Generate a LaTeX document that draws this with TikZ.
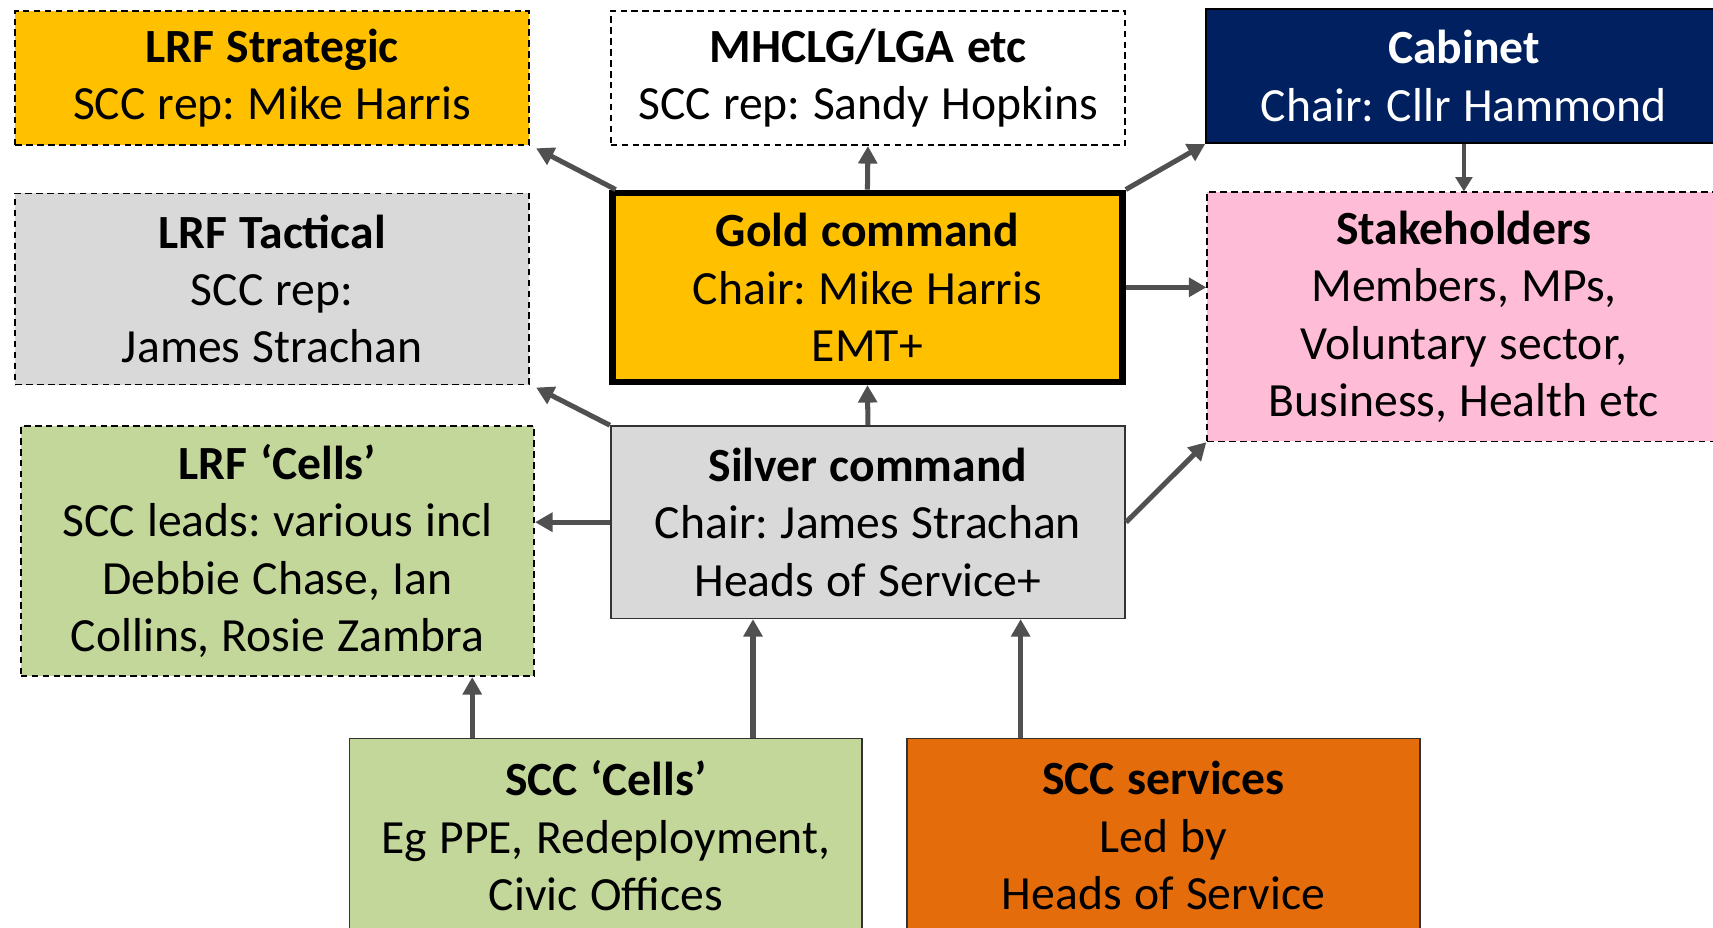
\documentclass[tikz,border=0pt]{standalone}
\usepackage{fontspec}
\setmainfont{Carlito}
\usetikzlibrary{arrows.meta}
\definecolor{gold}{HTML}{FFC000}
\definecolor{navy}{HTML}{002060}
\definecolor{pinkc}{HTML}{FFBCD7}
\definecolor{greenc}{HTML}{C4D79B}
\definecolor{grayc}{HTML}{D9D9D9}
\definecolor{orangec}{HTML}{E46C0A}
\definecolor{arrowgray}{HTML}{505050}
\frenchspacing
\newcommand\bxfont{\fontsize{21.8}{26.3}\selectfont\frenchspacing}
\newcommand\tightsp{\spaceskip=0.26em\relax}
\begin{document}
\begin{tikzpicture}[x=0.5pt,y=-0.5pt,
  box/.style={draw=black, rectangle, align=center, inner sep=0pt, line width=0.75pt,
    font=\bxfont, text width=230pt},
  dbox/.style={box, dash pattern=on 3pt off 2pt},
  arr/.style={draw=arrowgray, line width=2.3pt, -{Triangle[length=8pt,width=8.5pt]}},
  thinarr/.style={draw=arrowgray, line width=1.7pt, -{Triangle[length=6.5pt,width=7.5pt]}}]
\useasboundingbox (0,0) rectangle (1568,849);
\clip (0,0) rectangle (1568,849);
\fill[white] (0,0) rectangle (1568,849);

\node[dbox, fill=gold, minimum width=235pt, minimum height=61.5pt] (strat) at (249,71.5)
  {\tightsp\textbf{LRF Strategic}\\SCC rep: Mike Harris};
\node[dbox, fill=white, minimum width=235.5pt, minimum height=61.5pt] (mhclg) at (794.5,71.5)
  {\tightsp\textbf{MHCLG/LGA etc}\\SCC rep: Sandy Hopkins};
\node[box, fill=navy, text=white, minimum width=236pt, minimum height=61.5pt] (cab) at (1340,69.5)
  {\tightsp\textbf{Cabinet}\\Chair: Cllr Hammond};
\node[dbox, fill=grayc, minimum width=235pt, minimum height=87.5pt] (tact) at (249,264.5)
  {\tightsp\textbf{LRF Tactical}\\SCC rep:\\James Strachan};
\node[box, fill=gold, line width=3pt, minimum width=233.5pt, minimum height=86.5pt] (gold) at (794,263)
  {\tightsp\textbf{Gold command}\\Chair: Mike Harris\\EMT+};
\node[dbox, fill=pinkc, minimum width=235pt, minimum height=114pt] (stake) at (1340,290)
  {\tightsp\textbf{Stakeholders}\\Members, MPs,\\Voluntary sector,\\Business, Health etc};
\node[dbox, fill=greenc, minimum width=235pt, minimum height=114.5pt] (lrfcells) at (254,504.5)
  {\tightsp\textbf{LRF ‘Cells’}\\SCC leads: various incl\\Debbie Chase, Ian\\Collins, Rosie Zambra};
\node[box, fill=grayc, draw=black!80, minimum width=235.5pt, minimum height=88pt] (silver) at (794.5,478)
  {\tightsp\textbf{Silver command}\\Chair: James Strachan\\Heads of Service+};
\node[box, fill=greenc, draw=black!80, minimum width=234.5pt, minimum height=89pt] (scccells) at (554.5,765)
  {\tightsp\textbf{SCC ‘Cells’}\\Eg PPE, Redeployment,\\Civic Offices};
\node[box, fill=orangec, draw=black!80, minimum width=235pt, minimum height=89pt] (sccserv) at (1065,765)
  {\tightsp\textbf{SCC services}\\Led by\\Heads of Service};

% connectors
\draw[arr] ([xshift=3pt]gold.north west) -- ([xshift=3pt,yshift=-1pt]strat.south east);
\draw[arr] (gold.north) -- (mhclg.south);
\draw[arr] (gold.north east) -- (cab.south west);
\draw[thinarr] (cab.south) -- (stake.north);
\draw[arr] (gold.east) -- (gold.east -| stake.west);
\draw[arr] (silver.north west) -- ([xshift=3pt,yshift=-1pt]tact.south east);
\draw[arr] (silver.north) -- (gold.south);
\draw[arr] (silver.west) -- (silver.west -| lrfcells.east);
\draw[arr] (silver.east) -- (stake.south west);
\coordinate (c1) at ([xshift=56.5pt]scccells.north west);
\coordinate (c2) at ([xshift=185pt]scccells.north west);
\coordinate (c3) at ([xshift=52.5pt]sccserv.north west);
\draw[arr] (c1) -- (c1 |- lrfcells.south);
\draw[arr] (c2) -- (c2 |- silver.south);
\draw[arr] (c3) -- (c3 |- silver.south);
\end{tikzpicture}
\end{document}
